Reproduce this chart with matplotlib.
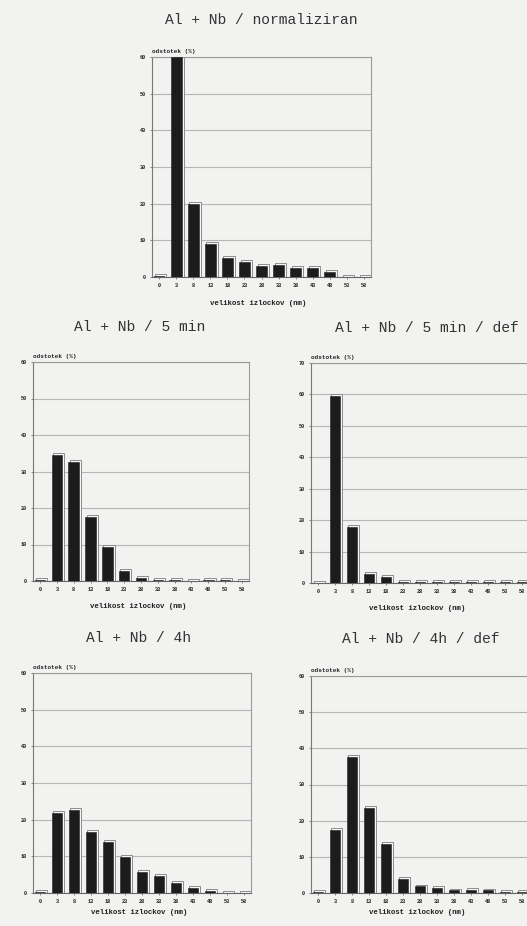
import numpy as np
import matplotlib
matplotlib.use("Agg")
import matplotlib.pyplot as plt

# size classes (nm)
sizes = ['0', '3', '8', '13', '18', '23', '28', '33', '38', '43', '48', '53', '58']

# share of precipitates (%) per chart
normaliziran = [0.3, 60, 20, 9, 5.2, 4.1, 3.0, 3.2, 2.4, 2.4, 1.3, 0, 0]
min5 = [0.3, 34.5, 32.5, 17.5, 9.3, 2.7, 0.8, 0.3, 0.3, 0, 0.3, 0.3, 0]
min5_def = [0, 59.5, 17.8, 2.9, 2.0, 0.2, 0.2, 0.2, 0.2, 0.2, 0.2, 0.2, 0.2]
h4 = [0.2, 21.7, 22.6, 16.7, 13.8, 9.8, 5.7, 4.7, 2.7, 1.4, 0.6, 0, 0]
h4_def = [0.3, 17.5, 37.6, 23.5, 13.6, 3.9, 1.8, 1.3, 0.7, 0.8, 0.7, 0.3, 0.3]

titles = ["Al + Nb / normaliziran", "Al + Nb / 5 min", "Al + Nb / 5 min / def",
          "Al + Nb / 4h", "Al + Nb / 4h / def"]
series = [normaliziran, min5, min5_def, h4, h4_def]
ymax = [60, 60, 70, 60, 60]

# axes rectangles in pixels: left, top, right, bottom
W, H = 527, 926
boxes = [(152, 57, 371, 277), (33, 362, 249, 581), (311, 363, 529, 583),
         (33, 673, 251, 893), (311, 676, 529, 893)]
title_xy = [(261, 20), (140, 327), (427, 328), (139, 638), (421, 639)]
xlab_y = [304, 607, 608, 912, 912]

bg = '#f2f2f1'
ink = '#222222'
mono = 'Liberation Mono'

fig = plt.figure(figsize=(W / 100, H / 100), dpi=100, facecolor=bg)

for vals, top, (l, t, r, b), (tx, ty), xy, title in zip(
        series, ymax, boxes, title_xy, xlab_y, titles):
    ax = fig.add_axes([l / W, 1 - b / H, (r - l) / W, (b - t) / H])
    ax.set_facecolor(bg)
    x = np.arange(len(sizes))
    v = np.array(vals)
    dy = top * 0.009
    # light offset outline behind each bar
    ax.bar(x + 0.1, v + dy, width=0.66, bottom=0, color='#f7f7f7',
           edgecolor='#8c8c8c', linewidth=0.7, zorder=2)
    ax.bar(x, v, width=0.62, color='#1c1c1c', edgecolor='#1c1c1c',
           linewidth=0.4, zorder=3)
    ax.set_xlim(-0.42, 12.42)
    ax.set_ylim(0, top)
    ax.set_yticks(np.arange(0, top + 1, 10))
    ax.set_xticks(x)
    ax.set_xticklabels(sizes)
    ax.yaxis.grid(True, color='#b5b5b5', linewidth=0.8, zorder=1)
    ax.tick_params(axis='both', labelsize=3.8, length=1.5, width=0.5,
                   direction='out', colors='#555555', labelcolor=ink, pad=3)
    for lab in ax.get_xticklabels() + ax.get_yticklabels():
        lab.set_family(mono)
        lab.set_weight('bold')
    for s in ax.spines.values():
        s.set_color('#9a9a9a')
        s.set_linewidth(0.8)
    ax.spines['left'].set_color('#777777')
    ax.spines['bottom'].set_color('#666666')
    ax.text(0.0, 1.012, 'odstotek (%)', transform=ax.transAxes, fontsize=4.3,
            family=mono, weight='bold', color=ink, ha='left', va='bottom')
    fig.text(tx / W, 1 - ty / H, title, fontsize=10.5, family=mono,
             color='#333333', ha='center', va='center')
    fig.text((l + (r - l) / 2 - 3) / W, 1 - xy / H, 'velikost izlockov (nm)',
             fontsize=5.3, family=mono, weight='bold', color=ink,
             ha='center', va='center')

fig.savefig('out.png', dpi=100, facecolor=bg)
